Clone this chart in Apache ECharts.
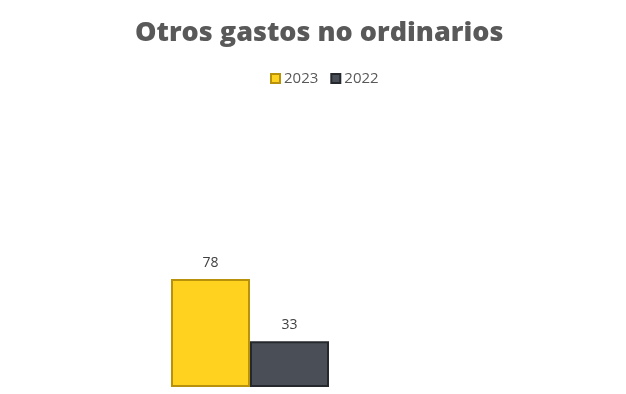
<!DOCTYPE html>
<html>
<head>
<meta charset="utf-8">
<script src="https://cdn.jsdelivr.net/npm/echarts@6/dist/echarts.min.js"></script>
<style>html,body{margin:0;padding:0;background:#fff}#c{width:626px;height:394px}</style>
</head>
<body>
<div id="c"></div>
<script>
const categories = [''];
const series2023 = [78];
const series2022 = [33];
const seriesNames = ['2023', '2022'];

const chart = echarts.init(document.getElementById('c'));
chart.setOption({
  animation: false,
  backgroundColor: '#ffffff',
  title: {
    text: 'Otros gastos no ordinarios',
    left: 130,
    top: 15,
    textStyle: { fontFamily: 'Open Sans', fontWeight: 800, fontSize: 27, color: '#595959' }
  },
  legend: {
    top: 66,
    left: 265,
    itemWidth: 9,
    itemHeight: 9,
    itemGap: 12,
    icon: 'rect',
    textStyle: { fontFamily: 'Open Sans', fontSize: 15, color: '#595959', padding: [0, 0, 0, -1] },
    data: seriesNames
  },
  grid: { left: 12, right: 138, top: 110, bottom: 7 },
  xAxis: {
    type: 'category',
    data: categories,
    axisLine: { show: false },
    axisTick: { show: false },
    axisLabel: { show: false }
  },
  yAxis: {
    type: 'value',
    min: 0,
    max: 200,
    show: false,
    splitLine: { show: false }
  },
  series: [
    {
      name: seriesNames[0],
      type: 'bar',
      data: series2023,
      barWidth: 79,
      barGap: '0%',
      itemStyle: { color: '#FFD21F', borderColor: '#B8920A', borderWidth: 2 },
      label: { show: true, position: 'top', distance: 9, fontFamily: 'Open Sans', fontSize: 14, color: '#404040' }
    },
    {
      name: seriesNames[1],
      type: 'bar',
      data: series2022,
      barWidth: 79,
      itemStyle: { color: '#4A4F57', borderColor: '#25282d', borderWidth: 2 },
      label: { show: true, position: 'top', distance: 9, fontFamily: 'Open Sans', fontSize: 14, color: '#404040' }
    }
  ]
});
</script>
</body>
</html>
